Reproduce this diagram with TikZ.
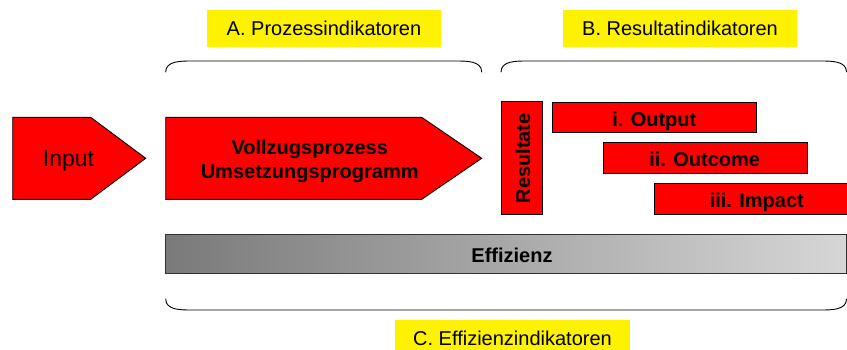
\documentclass[tikz,border=0pt]{standalone}
\usepackage{fontspec}
\setmainfont{Liberation Sans}
\usepackage{tikz}
\usetikzlibrary{calc}

\definecolor{bardark}{RGB}{122,122,122}
\definecolor{barlight}{RGB}{214,214,214}
\definecolor{barline}{RGB}{50,50,50}

\begin{document}
\begin{tikzpicture}[x=1pt, y=1pt,
    box/.style={fill=red, draw=black, line width=0.9pt},
    brace/.style={line width=0.9pt, line cap=round},
    tag/.style={fill=yellow, minimum width=234pt, minimum height=37pt,
        inner sep=0pt, font=\fontsize{20}{24}\selectfont},
    word/.style={anchor=base, inner sep=0pt, font=\fontsize{20}{24}\selectfont\bfseries}
    ]
    \useasboundingbox (0,0) rectangle (847,349);

    \node[tag] (prozess) at (324,320.5) {A. Prozessindikatoren};
    \node[tag] (resultat) at (680,320.5) {B. Resultatindikatoren};
    \node[tag, minimum width=235pt] (effizienzind) at (512.5,10.5) {C. Effizienzindikatoren};

    \draw[brace] (165.7,277) to[out=90,in=180] (192,288) -- (455,288)
        to[out=0,in=90] (481.7,277);
    \draw[brace] (501,277) to[out=90,in=180] (527,288) -- (820,288)
        to[out=0,in=90] (846.5,277);
    \draw[brace] (165.7,50) to[out=-90,in=180] (192,39) -- (820,39)
        to[out=0,in=-90] (846.5,50);

    \draw[box] (12.7,149.7) -- (12.7,231.7) -- (90.7,231.7) -- (145.7,190.7)
        -- (90.7,149.7) -- cycle;
    \node[anchor=base, inner sep=0pt, font=\fontsize{23}{26}\selectfont] (input) at (68.5,182.3) {Input};

    \draw[box] (165.7,149.7) -- (165.7,231.7) -- (421.7,231.7) -- (481.7,190.7)
        -- (421.7,149.7) -- cycle;
    \node[word] (vollzug) at (309.7,195) {Vollzugsprozess};
    \node[word] (umsetzung) at (309.7,170.7) {Umsetzungsprogramm};

    \draw[box] (501.3,134.7) rectangle (542.7,247.3);
    \node[word, rotate=90] (resultate) at (530,190.7) {Resultate};

    \draw[box] (552.3,216.3) rectangle (756.7,246.7);
    \node[word] (output) at (654.3,222.5) {i. Output};
    \draw[box] (603.3,176) rectangle (807.3,206.7);
    \node[word] (outcome) at (704.7,182.3) {ii. Outcome};
    \draw[box] (654.3,135) rectangle (858.3,165.7);
    \node[word] (impact) at (756.8,141.7) {iii. Impact};

    \shade[left color=bardark, right color=barlight] (165.7,75.7) rectangle (846.5,114.7);
    \draw[line width=1.4pt, draw=barline] (165.7,75.7) rectangle (846.5,114.7);
    \node[word] (effizienz) at (512,86.7) {Effizienz};
\end{tikzpicture}
\end{document}
